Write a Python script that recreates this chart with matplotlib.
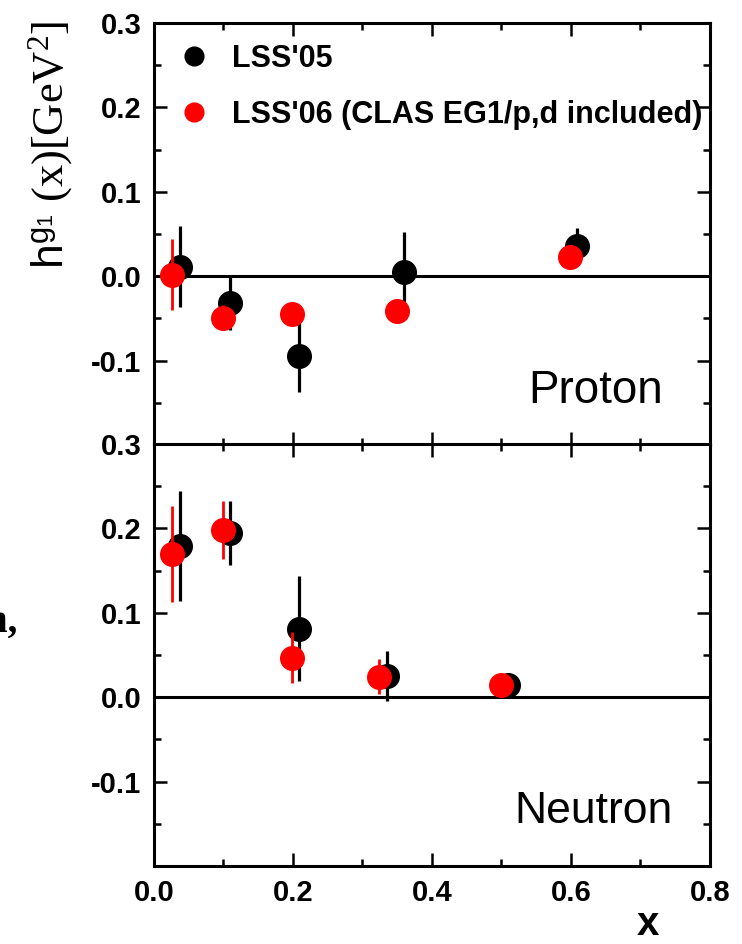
import matplotlib
matplotlib.use("Agg")
import matplotlib.pyplot as plt
from matplotlib.lines import Line2D
from matplotlib.ticker import MultipleLocator, FixedLocator

plt.rcParams['font.family'] = ['Liberation Sans', 'DejaVu Sans']
plt.rcParams['mathtext.fontset'] = 'custom'
plt.rcParams['mathtext.rm'] = 'Liberation Serif'
plt.rcParams['mathtext.sf'] = 'Liberation Sans'
plt.rcParams['mathtext.it'] = 'Liberation Serif:italic'

# Proton panel
p05_x = [0.037, 0.109, 0.209, 0.360, 0.609]
p05_y = [0.0115, -0.032, -0.095, 0.0055, 0.036]
p05_e = [0.048, 0.032, 0.042, 0.047, 0.021]
p06_x = [0.026, 0.099, 0.199, 0.349, 0.599]
p06_y = [0.002, -0.049, -0.045, -0.041, 0.0225]
p06_e = [0.042, 0.015, 0.008, 0.008, 0.008]

# Neutron panel
n05_x = [0.037, 0.109, 0.209, 0.335, 0.509]
n05_y = [0.179, 0.195, 0.081, 0.025, 0.014]
n05_e = [0.065, 0.038, 0.062, 0.030, 0.005]
n06_x = [0.026, 0.099, 0.199, 0.324, 0.499]
n06_y = [0.170, 0.198, 0.047, 0.0245, 0.015]
n06_e = [0.057, 0.034, 0.030, 0.021, 0.005]

labels = ["LSS'05", "LSS'06 (CLAS EG1/p,d included)"]
yticks = [-0.1, 0.0, 0.1, 0.2, 0.3]
ytick_labels = ["-0.1", "0.0", "0.1", "0.2", "0.3"]
xticks = [0.0, 0.2, 0.4, 0.6, 0.8]
xtick_labels = ["0.0", "0.2", "0.4", "0.6", "0.8"]

fig = plt.figure(figsize=(7.42, 9.44), dpi=100)
ax1 = fig.add_axes([0.2075, 0.5286, 0.7493, 0.4470])
ax2 = fig.add_axes([0.2075, 0.0826, 0.7493, 0.4471])

def style(ax, show_x):
    ax.set_xlim(0, 0.8)
    ax.set_ylim(-0.2, 0.3)
    ax.xaxis.set_major_locator(FixedLocator(xticks))
    ax.xaxis.set_minor_locator(MultipleLocator(0.1))
    ax.yaxis.set_major_locator(FixedLocator(yticks))
    ax.yaxis.set_minor_locator(MultipleLocator(0.05))
    ax.set_yticklabels(ytick_labels, fontsize=21, fontweight='bold')
    if show_x:
        ax.set_xticklabels(xtick_labels, fontsize=21, fontweight='bold')
    else:
        ax.set_xticklabels([])
    ax.tick_params(which='both', direction='in', top=True, right=True, width=1.8)
    ax.tick_params(which='major', length=9.5, pad=9)
    ax.tick_params(which='minor', length=5)
    for s in ax.spines.values():
        s.set_linewidth(2.2)
    ax.axhline(0, color='black', lw=2.2, zorder=1)

for ax, (x5, y5, e5, x6, y6, e6) in [
        (ax1, (p05_x, p05_y, p05_e, p06_x, p06_y, p06_e)),
        (ax2, (n05_x, n05_y, n05_e, n06_x, n06_y, n06_e))]:
    ax.errorbar(x5, y5, yerr=e5, fmt='o', color='black', ms=17, elinewidth=2.3,
                capsize=0, zorder=3)
    ax.errorbar(x6, y6, yerr=e6, fmt='o', color='#ff0000', ms=17, elinewidth=2.0,
                capsize=0, zorder=4)

style(ax1, False)
style(ax2, True)

handles = [Line2D([], [], marker='o', ls='', color='black', ms=13.5),
           Line2D([], [], marker='o', ls='', color='#ff0000', ms=13.5)]
ax1.legend(handles, labels, loc='upper left', bbox_to_anchor=(0.044, 0.951),
           frameon=False, borderaxespad=0, borderpad=0, handlelength=1.0,
           handletextpad=0.75, labelspacing=0.85,
           prop={'size': 22, 'weight': 'bold'})

ax1.text(0.915, 0.1, "Proton", transform=ax1.transAxes, ha='right', va='baseline',
         fontsize=33)
ax2.text(0.932, 0.102, "Neutron", transform=ax2.transAxes, ha='right', va='baseline',
         fontsize=32)

fig.text(648 / 742, 1 - 943 / 944, "x", ha='center', va='bottom', fontsize=29,
         fontweight='bold')
fig.text(51 / 742, 1 - 145 / 944,
         r"$\mathsf{h}^{\mathsf{g}_{\mathsf{1}}}\ \mathrm{(x)[GeV}^{2}\mathrm{]}$",
         rotation=90, ha='center', va='center', fontsize=32)
fig.text(17 / 742, 1 - 632 / 944, "n,", ha='right', va='baseline', fontsize=28,
         family='Liberation Serif', fontweight='bold')

fig.savefig("out.png", dpi=100)
